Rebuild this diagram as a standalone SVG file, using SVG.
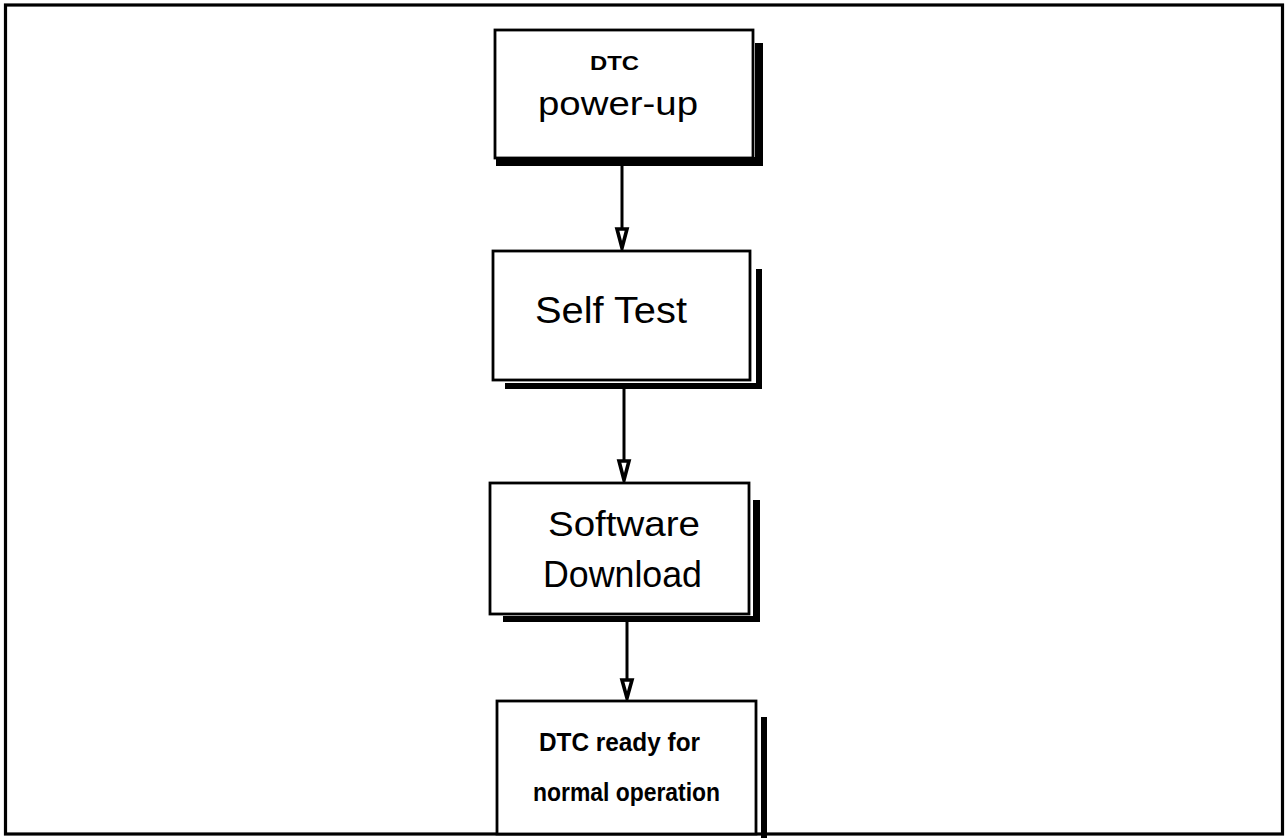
<svg xmlns="http://www.w3.org/2000/svg" width="1285" height="838" viewBox="0 0 1285 838">
  <style>
    .box { fill: #ffffff; stroke: #000000; stroke-width: 2.8; }
    .shadow { fill: #000000; }
    .lbl { font-family: "Liberation Sans", Arial, sans-serif; fill: #000000; }
    .bold { font-weight: bold; }
    .conn { stroke: #000000; stroke-width: 3; fill: none; }
    .head { fill: #ffffff; stroke: #000000; stroke-width: 3.6; stroke-linejoin: miter; }
  </style>
  <rect x="0" y="0" width="1285" height="838" fill="#ffffff"/>
  <!-- outer frame -->
  <rect x="5.5" y="5" width="1277" height="829" fill="none" stroke="#000000" stroke-width="3.2"/>

  <!-- connectors: shaft plus outlined arrowhead -->
  <g id="connectors">
    <line class="conn" x1="622" y1="166" x2="622" y2="229"/>
    <path class="head" d="M617,229 L627,229 L622,248 Z"/>
    <line class="conn" x1="624" y1="389" x2="624" y2="461"/>
    <path class="head" d="M619,461 L629,461 L624,480 Z"/>
    <line class="conn" x1="627" y1="622" x2="627" y2="680"/>
    <path class="head" d="M622,680 L632,680 L627,698 Z"/>
  </g>

  <g id="node-powerup">
    <rect class="shadow" x="755" y="43" width="8" height="123"/>
    <rect class="shadow" x="496" y="157" width="267" height="9"/>
    <rect class="box" x="495" y="30" width="258" height="128"/>
    <text class="lbl bold" x="590" y="70" font-size="21" textLength="49" lengthAdjust="spacingAndGlyphs">DTC</text>
    <text class="lbl" x="538" y="115" font-size="34" textLength="160" lengthAdjust="spacingAndGlyphs">power-up</text>
  </g>

  <g id="node-selftest">
    <rect class="shadow" x="756" y="269" width="6" height="120"/>
    <rect class="shadow" x="505" y="383" width="257" height="6"/>
    <rect class="box" x="493" y="251" width="257" height="129"/>
    <text class="lbl" x="535" y="323" font-size="36" textLength="152" lengthAdjust="spacingAndGlyphs">Self Test</text>
  </g>

  <g id="node-download">
    <rect class="shadow" x="753" y="500" width="7" height="122"/>
    <rect class="shadow" x="503" y="616" width="257" height="6"/>
    <rect class="box" x="490" y="483" width="259" height="131"/>
    <text class="lbl" x="548" y="536" font-size="35" textLength="152" lengthAdjust="spacingAndGlyphs">Software</text>
    <text class="lbl" x="543" y="587" font-size="36" textLength="159" lengthAdjust="spacingAndGlyphs">Download</text>
  </g>

  <g id="node-ready">
    <rect class="shadow" x="761" y="717" width="6" height="121"/>
    <rect class="box" x="497" y="701" width="259" height="133"/>
    <text class="lbl bold" x="539" y="751" font-size="26" textLength="161" lengthAdjust="spacingAndGlyphs">DTC ready for</text>
    <text class="lbl bold" x="533" y="801" font-size="26" textLength="187" lengthAdjust="spacingAndGlyphs">normal operation</text>
  </g>
</svg>
